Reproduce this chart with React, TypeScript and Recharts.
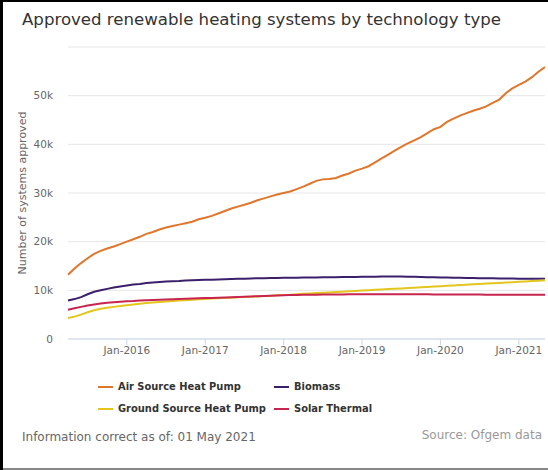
import { LineChart, Line, XAxis, YAxis, CartesianGrid } from 'recharts';

// monthly, Apr 2015 .. May 2021
const months = [
  '2015-04', '2015-05', '2015-06', '2015-07', '2015-08', '2015-09', '2015-10', '2015-11', '2015-12',
  '2016-01', '2016-02', '2016-03', '2016-04', '2016-05', '2016-06', '2016-07', '2016-08', '2016-09', '2016-10', '2016-11', '2016-12',
  '2017-01', '2017-02', '2017-03', '2017-04', '2017-05', '2017-06', '2017-07', '2017-08', '2017-09', '2017-10', '2017-11', '2017-12',
  '2018-01', '2018-02', '2018-03', '2018-04', '2018-05', '2018-06', '2018-07', '2018-08', '2018-09', '2018-10', '2018-11', '2018-12',
  '2019-01', '2019-02', '2019-03', '2019-04', '2019-05', '2019-06', '2019-07', '2019-08', '2019-09', '2019-10', '2019-11', '2019-12',
  '2020-01', '2020-02', '2020-03', '2020-04', '2020-05', '2020-06', '2020-07', '2020-08', '2020-09', '2020-10', '2020-11', '2020-12',
  '2021-01', '2021-02', '2021-03', '2021-04', '2021-05',
];

const airSource = [
  13200, 14500, 15600, 16600, 17500, 18100, 18600, 19000, 19500, 20000,
  20500, 21000, 21600, 22000, 22500, 22900, 23200, 23500, 23800, 24100,
  24600, 24900, 25300, 25800, 26300, 26800, 27200, 27600, 28000, 28500,
  28900, 29300, 29700, 30000, 30300, 30800, 31300, 31900, 32500, 32800,
  32900, 33100, 33600, 34000, 34600, 35000, 35500, 36300, 37100, 37900,
  38700, 39500, 40200, 40800, 41500, 42300, 43100, 43600, 44600, 45300,
  45900, 46400, 46900, 47300, 47800, 48500, 49200, 50500, 51500, 52200,
  52900, 53800, 54900, 55900,
];

const biomass = [
  7900, 8200, 8600, 9200, 9700, 10000, 10300, 10600, 10800, 11000,
  11200, 11300, 11500, 11600, 11700, 11800, 11850, 11900, 12000, 12050,
  12100, 12150, 12200, 12250, 12300, 12350, 12400, 12400, 12450, 12500,
  12500, 12550, 12550, 12600, 12600, 12600, 12650, 12650, 12650, 12700,
  12700, 12700, 12750, 12750, 12750, 12800, 12800, 12800, 12850, 12850,
  12850, 12850, 12800, 12800, 12750, 12700, 12700, 12650, 12650, 12600,
  12600, 12550, 12550, 12500, 12500, 12500, 12450, 12450, 12450, 12400,
  12400, 12400, 12400, 12400,
];

const groundSource = [
  4300, 4600, 5000, 5500, 5900, 6200, 6400, 6600, 6800, 6950,
  7100, 7250, 7400, 7500, 7600, 7700, 7800, 7900, 7950, 8050,
  8150, 8200, 8300, 8350, 8450, 8500, 8600, 8650, 8700, 8750,
  8850, 8900, 9000, 9050, 9100, 9200, 9280, 9350, 9430, 9500,
  9580, 9650, 9730, 9800, 9880, 9950, 10030, 10100, 10180, 10250,
  10330, 10400, 10480, 10550, 10630, 10700, 10780, 10850, 10930, 11000,
  11080, 11150, 11230, 11300, 11380, 11450, 11530, 11600, 11680, 11750,
  11830, 11900, 11980, 12050,
];

const solarThermal = [
  6000, 6300, 6600, 6900, 7100, 7300, 7450, 7550, 7650, 7750,
  7800, 7900, 7950, 8000, 8050, 8100, 8150, 8200, 8250, 8300,
  8350, 8400, 8450, 8500, 8550, 8600, 8650, 8700, 8750, 8800,
  8850, 8900, 8950, 9000, 9050, 9050, 9100, 9100, 9100, 9150,
  9150, 9150, 9150, 9200, 9200, 9200, 9200, 9200, 9200, 9200,
  9200, 9200, 9200, 9200, 9200, 9200, 9150, 9150, 9150, 9150,
  9150, 9150, 9150, 9150, 9100, 9100, 9100, 9100, 9100, 9100,
  9100, 9100, 9100, 9100,
];

const xTicks = ['2016-01', '2017-01', '2018-01', '2019-01', '2020-01', '2021-01'];
const xTickLabels = ['Jan-2016', 'Jan-2017', 'Jan-2018', 'Jan-2019', 'Jan-2020', 'Jan-2021'];
const yTicks = [0, 10000, 20000, 30000, 40000, 50000, 60000];

const series = [
  { key: 'ashp', name: 'Air Source Heat Pump', color: '#E0762B', values: airSource },
  { key: 'biomass', name: 'Biomass', color: '#3B1F6B', values: biomass },
  { key: 'gshp', name: 'Ground Source Heat Pump', color: '#E3C61C', values: groundSource },
  { key: 'solar', name: 'Solar Thermal', color: '#C7244F', values: solarThermal },
];

const data = months.map((m, i) => {
  const row: Record<string, number | string> = { i, month: m };
  series.forEach((s) => { row[s.key] = s.values[i]; });
  return row;
});

const font = '"DejaVu Sans", sans-serif';

function LegendBox() {
  const cols = [98, 274];
  return (
    <div style={{ position: 'absolute', left: -3, top: 377, width: 548, height: 50 }}>
      {series.map((s, idx) => (
        <div
          key={s.key}
          style={{
            position: 'absolute',
            left: cols[idx % 2],
            top: Math.floor(idx / 2) * 22,
            display: 'flex',
            alignItems: 'center',
            fontFamily: '"DejaVu Sans Condensed", "DejaVu Sans", sans-serif',
            fontSize: 11,
            fontWeight: 'bold',
            color: '#333',
            whiteSpace: 'nowrap',
            lineHeight: '16px',
          }}
        >
          <span style={{ display: 'inline-block', width: 15, height: 2.5, background: s.color, marginRight: 5 }} />
          {s.name}
        </div>
      ))}
    </div>
  );
}

export default function App() {
  return (
    <div
      style={{
        position: 'absolute',
        left: 0,
        top: 0,
        width: 548,
        height: 470,
        background: '#fff',
        fontFamily: font,
        boxSizing: 'border-box',
        borderLeft: '3px solid #000',
        borderTop: '2px solid #000',
        overflow: 'hidden',
      }}
    >
      <div style={{ position: 'absolute', left: 19, top: 8, fontSize: 16.6, color: '#333', whiteSpace: 'nowrap' }}>
        Approved renewable heating systems by technology type
      </div>
      <div style={{ position: 'absolute', left: 19, top: 428, fontSize: 12, color: '#666', whiteSpace: 'nowrap' }}>
        Information correct as of: 01 May 2021
      </div>
      <div style={{ position: 'absolute', right: 6, top: 426, fontSize: 12, color: '#999', whiteSpace: 'nowrap' }}>
        Source: Ofgem data
      </div>
      <div style={{ position: 'absolute', left: -3, bottom: 0, width: 551, height: 2, background: '#888' }} />
      <div style={{ position: 'absolute', left: -3, top: -2 }}>
        <LineChart
          width={548}
          height={470}
          data={data}
          margin={{ top: 47, right: 3, bottom: 101, left: 0 }}
          style={{ fontFamily: font }}
        >
          <CartesianGrid vertical={false} stroke="#e6e6e6" />
          <XAxis
            dataKey="i"
            type="number"
            domain={[0, months.length - 1]}
            ticks={xTicks.map((t) => months.indexOf(t))}
            tickFormatter={(v: number) => xTickLabels[xTicks.indexOf(months[v])]}
            height={30}
            stroke="#ccd6eb"
            tickSize={6}
            tick={{ fill: '#666', fontSize: 10.5 }}
          />
          <YAxis
            width={68}
            domain={[0, 60000]}
            ticks={yTicks}
            axisLine={false}
            tickLine={false}
            tickMargin={9}
            tickFormatter={(v: number) => (v === 0 ? '0' : v === 60000 ? '' : `${v / 1000}k`)}
            tick={{ fill: '#666', fontSize: 10.5 }}
            label={{
              value: 'Number of systems approved',
              angle: -90,
              position: 'insideLeft',
              offset: 22,
              style: { fill: '#666', fontSize: 11, textAnchor: 'middle' },
            }}
          />
          {series.map((s) => (
            <Line
              key={s.key}
              dataKey={s.key}
              name={s.name}
              stroke={s.color}
              strokeWidth={2}
              dot={false}
              type="linear"
              isAnimationActive={false}
            />
          ))}
        </LineChart>
      </div>
      <LegendBox />
    </div>
  );
}
